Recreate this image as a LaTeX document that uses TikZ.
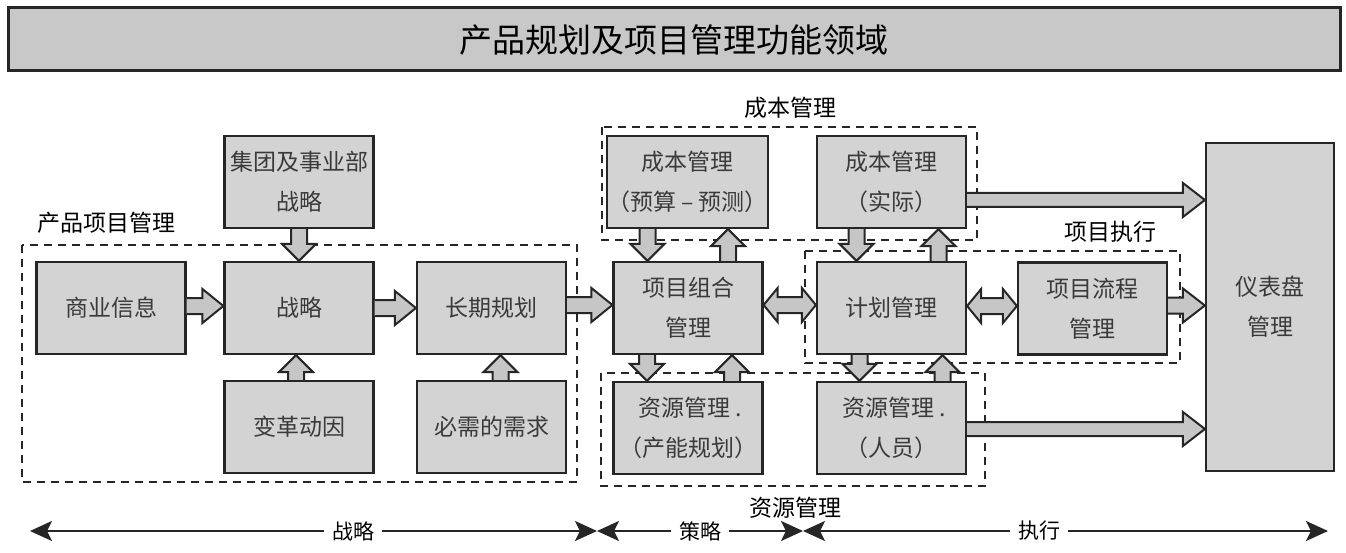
\documentclass[tikz,border=0pt]{standalone}
\usepackage{fontspec}
\setmainfont{Noto Sans CJK SC}
\usetikzlibrary{calc,arrows.meta}
\definecolor{boxfill}{HTML}{D3D3D3}
\definecolor{titlefill}{HTML}{C8C8C8}
\definecolor{arrfill}{HTML}{C6C6C6}
\definecolor{edge}{HTML}{262626}
\definecolor{txt}{HTML}{3A3A3A}
\tikzset{
 box/.style={draw=edge, fill=boxfill, line width=2.2pt, minimum width=149pt, minimum height=92pt, inner sep=0pt, align=center, text=txt, font=\fontsize{23}{40}\selectfont},
 grp/.style={draw=edge, dash pattern=on 8pt off 6pt, line width=2pt},
 grplabel/.style={font=\fontsize{23}{26}\selectfont, text=black, inner sep=0pt},
 barrow/.style={draw=edge, fill=arrfill, line width=2pt, line join=miter},
 axis/.style={draw=edge, line width=2.5pt, {Stealth[length=22pt,width=20pt,inset=5pt]}-{Stealth[length=22pt,width=20pt,inset=5pt]}},
 axlabel/.style={fill=white, font=\fontsize{21}{24}\selectfont, inner sep=8pt},
}
% right arrow: source, target, y offset, shaft half width, head length
\newcommand\arR[5]{%
 \path (#1.east) ++(0,#3) coordinate (s);
 \path (s -| #2.west) coordinate (t);
 \draw[barrow] ($(s)+(0,-#4)$) -- ($(t)+(-#5,-#4)$) -- ($(t)+(-#5,-17)$) -- (t) -- ($(t)+(-#5,17)$) -- ($(t)+(-#5,#4)$) -- ($(s)+(0,#4)$);
}
\newcommand\arD[3]{%
 \path (#1.south) ++(#3,0) coordinate (s);
 \path (s |- #2.north) coordinate (t);
 \draw[barrow] ($(s)+(-8,0)$) -- ($(t)+(-8,-17)$) -- ($(t)+(-17,-17)$) -- (t) -- ($(t)+(17,-17)$) -- ($(t)+(8,-17)$) -- ($(s)+(8,0)$);
}
\newcommand\arU[3]{%
 \path (#1.north) ++(#3,0) coordinate (s);
 \path (s |- #2.south) coordinate (t);
 \draw[barrow] ($(s)+(-8,0)$) -- ($(t)+(-8,17)$) -- ($(t)+(-17,17)$) -- (t) -- ($(t)+(17,17)$) -- ($(t)+(8,17)$) -- ($(s)+(8,0)$);
}
\newcommand\arLR[3]{%
 \path (#1.east) ++(0,#3) coordinate (s);
 \path (s -| #2.west) coordinate (t);
 \draw[barrow] (s) -- ($(s)+(14,-17)$) -- ($(s)+(14,-8)$) -- ($(t)+(-14,-8)$) -- ($(t)+(-14,-17)$) -- (t) -- ($(t)+(-14,17)$) -- ($(t)+(-14,8)$) -- ($(s)+(14,8)$) -- ($(s)+(14,17)$) -- cycle;
}
\begin{document}
\begin{tikzpicture}[x=1pt,y=-1pt]
\useasboundingbox (0,0) rectangle (1346,553);
% title
\draw[draw=edge, fill=titlefill, line width=3pt] (8,8) rectangle (1340,71);
\node[font=\fontsize{33}{36}\selectfont, text=black] (title) at (674,40) {产品规划及项目管理功能领域};
% group frames
\draw[grp] (22,245) rectangle (577,482);
\draw[grp] (602,127) rectangle (977,240);
\draw[grp] (805,251) rectangle (1180,363);
\draw[grp] (601,373) rectangle (985,486);
\node[grplabel] (lprod) at (106,223) {产品项目管理};
\node[grplabel] (lcost) at (790,108) {成本管理};
\node[grplabel] (lexec) at (1110,232) {项目执行};
\node[grplabel] (lres) at (795,508) {资源管理};
% boxes
\node[box] (biz) at (111,308) {商业信息};
\node[box] (grpst) at (299,182) {集团及事业部\\战略};
\node[box] (strat) at (299,308) {战略};
\node[box] (long) at (491.5,308) {长期规划};
\node[box] (chg) at (299,427) {变革动因};
\node[box] (need) at (491.5,427) {必需的需求};
\node[box] (costb) at (687.5,182) {成本管理\\（预算 – 预测）};
\node[box] (costa) at (891.5,182) {成本管理\\（实际）};
\node[box] (port) at (688,308) {项目组合\\管理};
\node[box] (plan) at (891.5,308) {计划管理};
\node[box] (flow) at (1092.5,308.5) {项目流程\\管理};
\node[box] (resc) at (688,428) {\ 资源管理 .\\（产能规划）};
\node[box] (resp) at (891.5,428) {\ 资源管理 .\\（人员）};
\node[box, minimum width=128pt, minimum height=328pt] (dash) at (1270,307) {仪表盘\\管理};
% block arrows
\arR{biz}{strat}{-2}{8}{21}
\arR{strat}{long}{0}{8}{21}
\arR{long}{port}{-3}{8}{21}
\arD{grpst}{strat}{0}
\arU{chg}{strat}{-3}
\arU{need}{long}{9}
\arD{costb}{port}{-40}
\arU{port}{costb}{40}
\arD{costa}{plan}{-35}
\arU{plan}{costa}{47}
\arD{port}{resc}{-41}
\arU{resc}{port}{44}
\arD{plan}{resp}{-32}
\arU{resp}{plan}{51}
\arLR{port}{plan}{-3}
\arLR{plan}{flow}{-2}
\arR{flow}{dash}{-3}{8}{22}
\arR{costa}{dash}{18}{7}{22}
\arR{resp}{dash}{1}{7}{22}
% bottom axis
\coordinate (axL) at (30,531);
\coordinate (axM1) at (597,531);
\coordinate (axM2) at (803,531);
\coordinate (axR) at (1328,531);
\draw[axis] (axL) -- node[axlabel, pos=0.57] (l1) {战略} (axM1);
\draw[axis] (axM1) -- node[axlabel, pos=0.5] (l2) {策略} (axM2);
\draw[axis] (axM2) -- node[axlabel, pos=0.45] (l3) {执行} (axR);
\end{tikzpicture}
\end{document}
